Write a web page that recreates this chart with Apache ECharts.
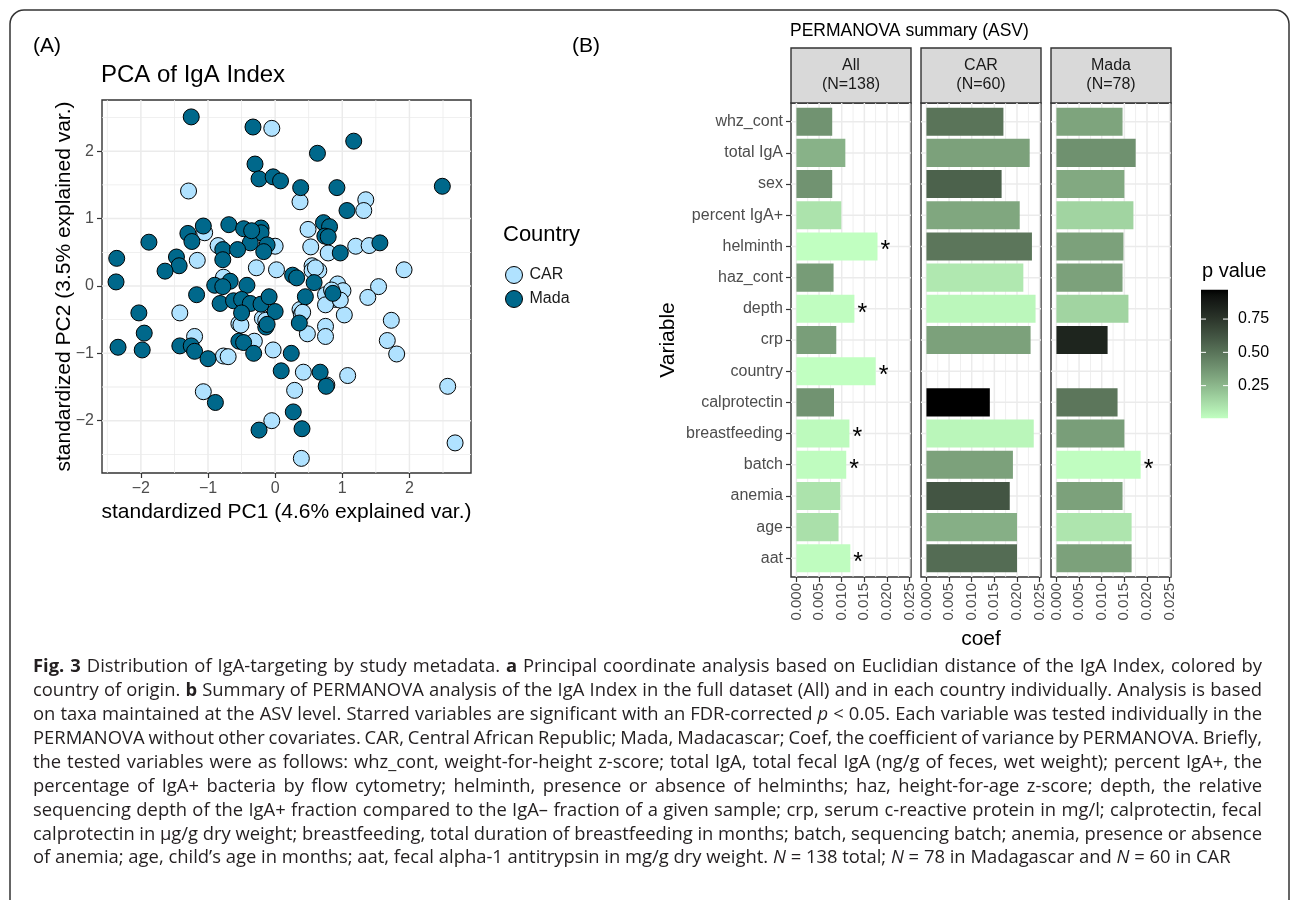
<!DOCTYPE html>
<html><head><meta charset="utf-8">
<script src="https://cdn.jsdelivr.net/npm/echarts@6/dist/echarts.min.js"></script>
<style>html,body{margin:0;padding:0;background:#fff}#c{width:1292px;height:900px}</style>
</head><body><div id="c"></div>
<script>
// ---------------- DATA ----------------
const carPoints = [[-0.05,2.34],[-1.29,1.41],[-1.05,0.79],[-0.85,0.60],[0.0,0.59],[-1.16,0.38],[-0.28,0.27],[0.02,0.24],[-0.77,0.13],[0.37,1.25],[1.35,1.28],[1.32,1.12],[0.49,0.84],[0.53,0.58],[0.79,0.49],[1.20,0.59],[1.40,0.60],[1.92,0.24],[0.55,0.30],[0.55,0.23],[0.65,0.23],[0.93,0.03],[1.54,-0.01],[-1.42,-0.40],[-0.54,-0.56],[-0.19,-0.48],[-0.14,-0.51],[-1.20,-0.75],[-0.77,-1.04],[-0.70,-1.05],[-0.31,-0.82],[-0.03,-0.95],[-1.07,-1.57],[-0.05,-2.00],[1.01,-0.07],[0.75,-0.13],[0.90,-0.20],[0.75,-0.28],[1.03,-0.43],[1.38,-0.17],[0.37,-0.35],[0.39,-0.42],[0.48,-0.71],[0.75,-0.60],[0.75,-0.75],[1.73,-0.51],[1.67,-0.81],[1.81,-1.01],[0.42,-1.28],[0.77,-1.47],[1.08,-1.33],[0.29,-1.55],[0.39,-2.56],[2.57,-1.49],[2.68,-2.33],[0.60,0.27],[0.84,-0.06],[-0.51,-0.58],[0.41,-0.39],[0.97,-0.21]];
const madaPoints = [[-1.25,2.51],[-0.33,2.36],[-0.30,1.81],[-0.24,1.59],[-0.03,1.62],[0.08,1.56],[-1.07,0.89],[-1.30,0.78],[-1.24,0.66],[-0.69,0.91],[-0.47,0.85],[-0.21,0.86],[-0.21,0.79],[-0.37,0.64],[-0.78,0.54],[-0.56,0.54],[-0.12,0.61],[-0.17,0.51],[-1.88,0.65],[-2.36,0.41],[-1.47,0.43],[-1.43,0.30],[-1.64,0.22],[-0.78,0.39],[-2.37,0.06],[-0.67,0.07],[-0.90,0.01],[-0.42,0.01],[1.17,2.15],[0.63,1.97],[0.38,1.46],[0.92,1.46],[2.49,1.48],[1.07,1.12],[0.72,0.94],[0.81,0.88],[0.74,0.74],[0.79,0.73],[0.97,0.49],[1.56,0.64],[0.26,0.16],[0.32,0.12],[0.58,0.05],[-0.78,-0.01],[-1.17,-0.13],[-2.03,-0.40],[-0.82,-0.26],[-0.62,-0.22],[-0.50,-0.20],[-0.37,-0.26],[-0.21,-0.27],[-0.09,-0.16],[0.0,-0.38],[-0.50,-0.40],[-0.14,-0.61],[-0.12,-0.57],[-1.95,-0.70],[-2.34,-0.91],[-1.98,-0.95],[-1.42,-0.89],[-1.25,-0.89],[-1.20,-0.97],[-1.00,-1.08],[-0.54,-0.82],[-0.47,-0.84],[-0.32,-1.00],[0.09,-1.26],[-0.89,-1.73],[-0.24,-2.14],[0.45,-0.16],[0.86,-0.11],[0.36,-0.55],[0.24,-1.00],[0.67,-1.28],[0.76,-1.49],[0.27,-1.87],[0.40,-2.12],[-0.35,0.82]];
const pcaTicks = [-2,-1,0,1,2];
const pcaMinor = [-2.5,-1.5,-0.5,0.5,1.5,2.5];

const variables = ['whz_cont','total IgA','sex','percent IgA+','helminth','haz_cont','depth','crp','country','calprotectin','breastfeeding','batch','anemia','age','aat'];
const panelNames = ['All\n(N=138)','CAR\n(N=60)','Mada\n(N=78)'];
const coefAll  = [0.0079,0.0108,0.0079,0.0099,0.0179,0.0082,0.0128,0.0088,0.0175,0.0083,0.0117,0.0110,0.0097,0.0093,0.0119];
const pAll     = [0.38,0.27,0.38,0.10,0.004,0.35,0.01,0.34,0.005,0.38,0.02,0.015,0.10,0.11,0.015];
const starAll  = [0,0,0,0,1,0,1,0,1,0,1,1,0,0,1];
const coefCAR  = [0.0170,0.0228,0.0166,0.0206,0.0233,0.0214,0.0241,0.0230,null,0.0140,0.0237,0.0191,0.0184,0.0200,0.0200];
const pCAR     = [0.50,0.33,0.57,0.31,0.49,0.08,0.03,0.33,null,0.97,0.035,0.33,0.62,0.28,0.53];
const starCAR  = [0,0,0,0,0,0,0,0,0,0,0,0,0,0,0];
const coefMada = [0.0146,0.0175,0.0150,0.0170,0.0148,0.0146,0.0159,0.0113,null,0.0135,0.0150,0.0186,0.0146,0.0166,0.0166];
const pMada    = [0.32,0.39,0.30,0.15,0.33,0.33,0.15,0.83,null,0.49,0.34,0.01,0.33,0.09,0.33];
const starMada = [0,0,0,0,0,0,0,0,0,0,0,1,0,0,0];
const coefTicks = [0,0.005,0.010,0.015,0.020,0.025];
const coefMinor = [0.0025,0.0075,0.0125,0.0175,0.0225];
const pTicks = [0.25,0.50,0.75];

const captionLines = [
 '{b|Fig. 3} Distribution of IgA-targeting by study metadata. {b|a} Principal coordinate analysis based on Euclidian distance of the IgA Index, colored by',
 'country of origin. {b|b} Summary of PERMANOVA analysis of the IgA Index in the full dataset (All) and in each country individually. Analysis is based',
 'on taxa maintained at the ASV level. Starred variables are significant with an FDR-corrected {i|p} < 0.05. Each variable was tested individually in the',
 'PERMANOVA without other covariates. CAR, Central African Republic; Mada, Madacascar; Coef, the coefficient of variance by PERMANOVA. Briefly,',
 'the tested variables were as follows: whz_cont, weight-for-height z-score; total IgA, total fecal IgA (ng/g of feces, wet weight); percent IgA+, the',
 'percentage of IgA+ bacteria by flow cytometry; helminth, presence or absence of helminths; haz, height-for-age z-score; depth, the relative',
 'sequencing depth of the IgA+ fraction compared to the IgA\u2013 fraction of a given sample; crp, serum c-reactive protein in mg/l; calprotectin, fecal',
 'calprotectin in \u00b5g/g dry weight; breastfeeding, total duration of breastfeeding in months; batch, sequencing batch; anemia, presence or absence',
 'of anemia; age, child\u2019s age in months; aat, fecal alpha-1 antitrypsin in mg/g dry weight. {i|N} = 138 total; {i|N} = 78 in Madagascar and {i|N} = 60 in CAR'
];

// ---------------- COLOUR SCALE (Lab interpolation, darkseagreen1 -> black) ----------------
function s2l(c){c/=255;return c<=0.04045?c/12.92:Math.pow((c+0.055)/1.055,2.4);}
function l2s(c){c=c<=0.0031308?12.92*c:1.055*Math.pow(c,1/2.4)-0.055;return Math.round(Math.max(0,Math.min(1,c))*255);}
function hexToLab(h){const r=s2l(parseInt(h.substr(1,2),16)),g=s2l(parseInt(h.substr(3,2),16)),b=s2l(parseInt(h.substr(5,2),16));
 const X=(0.4124*r+0.3576*g+0.1805*b)/0.95047,Y=0.2126*r+0.7152*g+0.0722*b,Z=(0.0193*r+0.1192*g+0.9505*b)/1.08883;
 const f=t=>t>0.008856?Math.cbrt(t):7.787*t+16/116;return [116*f(Y)-16,500*(f(X)-f(Y)),200*(f(Y)-f(Z))];}
function labToRgb(L,a,b){const fy=(L+16)/116,fx=fy+a/500,fz=fy-b/200;const fi=t=>t*t*t>0.008856?t*t*t:(t-16/116)/7.787;
 const X=fi(fx)*0.95047,Y=fi(fy),Z=fi(fz)*1.08883;
 const r=3.2406*X-1.5372*Y-0.4986*Z,g=-0.9689*X+1.8758*Y+0.0415*Z,bb=0.0557*X-0.2040*Y+1.0570*Z;
 return 'rgb('+l2s(r)+','+l2s(g)+','+l2s(bb)+')';}
const LOW=hexToLab('#C1FFC1'), HIGH=hexToLab('#000000');
const allP=[].concat(pAll,pCAR,pMada).filter(v=>v!=null);
const P_MIN=Math.min.apply(null,allP), P_MAX=Math.max.apply(null,allP);
function pColor(p){let t=(p-P_MIN)/(P_MAX-P_MIN);t=Math.max(0,Math.min(1,t));
 return labToRgb(LOW[0]+(HIGH[0]-LOW[0])*t,LOW[1]+(HIGH[1]-LOW[1])*t,LOW[2]+(HIGH[2]-LOW[2])*t);}

// ---------------- LAYOUT ----------------
const FONT='Liberation Sans, Arial, Helvetica, sans-serif';
const panelL=[791,921,1051], panelW=120, panelTop=103, panelH=474;
const stripTop=48, stripH=55;
const COEF_MIN=-0.0012, COEF_MAX=0.0253;

function gridLines(gi,xMaj,xMin,yMaj,yMin,xr,yr){
 return {type:'custom',xAxisIndex:gi,yAxisIndex:gi,silent:true,z:1,
  label:{show:false},labelLine:{show:false},
  data:[[(xr[0]+xr[1])/2,(yr[0]+yr[1])/2]],
  renderItem:function(params,api){
   const ch=[];
   const add=(a,b,w)=>ch.push({type:'rect',shape:{x:Math.min(a[0],b[0])-(a[0]===b[0]?w/2:0),y:Math.min(a[1],b[1])-(a[1]===b[1]?w/2:0),
     width:a[0]===b[0]?w:Math.abs(b[0]-a[0]),height:a[1]===b[1]?w:Math.abs(b[1]-a[1])},style:{fill:'#ebebeb'}});
   xMin.forEach(v=>add(api.coord([v,yr[0]]),api.coord([v,yr[1]]),0.8));
   yMin.forEach(v=>add(api.coord([xr[0],v]),api.coord([xr[1],v]),0.8));
   xMaj.forEach(v=>add(api.coord([v,yr[0]]),api.coord([v,yr[1]]),1.5));
   yMaj.forEach(v=>add(api.coord([xr[0],v]),api.coord([xr[1],v]),1.5));
   return {type:'group',children:ch};
  }};
}
function barSeries(gi,coef,pv,star){
 const data=[];
 coef.forEach((c,i)=>{if(c!=null)data.push([c,i,pv[i],star[i]]);});
 return {type:'custom',xAxisIndex:gi,yAxisIndex:gi,z:3,data:data,encode:{x:0,y:1},
  label:{show:false},labelLine:{show:false},
  renderItem:function(params,api){
   const v=api.value(0),i=api.value(1),p=api.value(2),s=api.value(3);
   const a=api.coord([0,i-0.45]),b=api.coord([v,i+0.45]);
   const ch=[{type:'rect',shape:{x:a[0],y:Math.min(a[1],b[1]),width:b[0]-a[0],height:Math.abs(b[1]-a[1])},style:{fill:pColor(p)}}];
   if(s){const c=api.coord([v,i]);ch.push({type:'text',x:c[0]+3,y:c[1]+5,style:{text:'*',fill:'#000',fontSize:25,fontFamily:FONT,align:'left',verticalAlign:'middle'}});}
   return {type:'group',children:ch};
  }};
}
const ticks15=variables.map((v,i)=>i);

const grids=[{left:102,top:100,width:369,height:373,show:true,borderColor:'#333',borderWidth:1.4,backgroundColor:'#fff'}];
panelL.forEach(L=>grids.push({left:L,top:panelTop,width:panelW,height:panelH,show:true,borderColor:'#333',borderWidth:1.4,backgroundColor:'#fff'}));
grids.push({left:1201,top:285.8,width:27,height:133.1,show:false});

const labelColor='#4d4d4d';
const xAxes=[{gridIndex:0,type:'value',min:-2.579,max:2.917,splitNumber:5,
  axisLine:{show:false,onZero:false},splitLine:{show:false},
  axisTick:{show:true,length:5,lineStyle:{color:'#333',width:1.2},customValues:pcaTicks},
  axisLabel:{color:labelColor,fontSize:16,fontFamily:FONT,margin:8,customValues:pcaTicks,
    formatter:v=>Math.abs(v-Math.round(v))<1e-6?(v<-0.5?'\u2212'+Math.abs(Math.round(v)):String(Math.round(v))):''},
  name:'standardized PC1 (4.6% explained var.)',nameLocation:'middle',nameGap:29,nameMoveOverlap:false,
  nameTextStyle:{fontSize:21,color:'#000',fontFamily:FONT}}];
const yAxes=[{gridIndex:0,type:'value',min:-2.777,max:2.761,splitNumber:5,
  axisLine:{show:false,onZero:false},splitLine:{show:false},
  axisTick:{show:true,length:5,lineStyle:{color:'#333',width:1.2},customValues:pcaTicks},
  axisLabel:{color:labelColor,fontSize:16,fontFamily:FONT,margin:8,customValues:pcaTicks,
    formatter:v=>Math.abs(v-Math.round(v))<1e-6?(v<-0.5?'\u2212'+Math.abs(Math.round(v)):String(Math.round(v))):''},
  name:'standardized PC2 (3.5% explained var.)',nameLocation:'middle',nameGap:27,nameMoveOverlap:false,
  nameTextStyle:{fontSize:21,color:'#000',fontFamily:FONT}}];
panelL.forEach((L,k)=>{
 const gi=k+1;
 const xa={gridIndex:gi,type:'value',min:COEF_MIN,max:COEF_MAX,splitNumber:5,
  axisLine:{show:false,onZero:false},splitLine:{show:false},
  axisTick:{show:true,length:5,lineStyle:{color:'#333',width:1.2},customValues:coefTicks},
  axisLabel:{color:labelColor,fontSize:15,fontFamily:FONT,rotate:90,margin:6,customValues:coefTicks,
    formatter:v=>{const r=v/0.005;return Math.abs(r-Math.round(r))<1e-6&&v>-1e-9&&v<0.0251?v.toFixed(3):'';}}};
 if(k===1){xa.name='coef';xa.nameLocation='middle';xa.nameGap=48;xa.nameTextStyle={fontSize:21,color:'#000',fontFamily:FONT};}
 xAxes.push(xa);
 const ya={gridIndex:gi,type:'value',inverse:true,min:-0.6,max:14.6,splitNumber:15,
  axisLine:{show:false,onZero:false},splitLine:{show:false},
  axisTick:{show:k===0,length:5,lineStyle:{color:'#333',width:1.2},customValues:ticks15},
  axisLabel:{show:k===0,color:labelColor,fontSize:16,fontFamily:FONT,margin:8,customValues:ticks15,
    formatter:v=>Math.abs(v-Math.round(v))<1e-6&&v>=0&&v<=14?variables[Math.round(v)]:''}};
 if(k===0){ya.name='Variable';ya.nameLocation='middle';ya.nameGap=112;ya.nameTextStyle={fontSize:21,color:'#000',fontFamily:FONT};}
 else {ya.show=false;}
 yAxes.push(ya);
});
xAxes.push({gridIndex:4,type:'value',min:0,max:1,show:false});
yAxes.push({gridIndex:4,type:'value',min:0,max:1,interval:0.25,position:'right',
 axisLine:{show:false,onZero:false},axisTick:{show:false},splitLine:{show:false},
 axisLabel:{color:'#000',fontSize:16,fontFamily:FONT,margin:10,
  formatter:v=>(v>0.01&&v<0.99)?v.toFixed(2):''}});

const series=[];
series.push(gridLines(0,pcaTicks,pcaMinor,pcaTicks,pcaMinor,[-2.579,2.917],[-2.777,2.761]));
series.push({type:'scatter',name:'CAR',xAxisIndex:0,yAxisIndex:0,z:3,data:carPoints,symbolSize:16,
 itemStyle:{color:'#B0E2FF',borderColor:'#000',borderWidth:1,opacity:1}});
series.push({type:'scatter',name:'Mada',xAxisIndex:0,yAxisIndex:0,z:4,data:madaPoints,symbolSize:16,
 itemStyle:{color:'#00688B',borderColor:'#000',borderWidth:1,opacity:1}});
[1,2,3].forEach(gi=>series.push(gridLines(gi,coefTicks,coefMinor,ticks15,[],[COEF_MIN,COEF_MAX],[-0.6,14.6])));
series.push(barSeries(1,coefAll,pAll,starAll));
series.push(barSeries(2,coefCAR,pCAR,starCAR));
series.push(barSeries(3,coefMada,pMada,starMada));
// colour bar
series.push({type:'custom',xAxisIndex:4,yAxisIndex:4,silent:true,data:[[0.5,0.5]],label:{show:false},
 renderItem:function(params,api){
  const a=api.coord([0,P_MIN]),b=api.coord([1,P_MAX]);
  const stops=[];for(let k=0;k<=24;k++){const t=k/24;stops.push({offset:t,color:pColor(P_MIN+(P_MAX-P_MIN)*t)});}
  const ch=[{type:'rect',shape:{x:a[0],y:b[1],width:b[0]-a[0],height:a[1]-b[1]},
   style:{fill:{type:'linear',x:0,y:1,x2:0,y2:0,colorStops:stops}}}];
  pTicks.forEach(v=>{const l=api.coord([0,v]),r=api.coord([1,v]);
   ch.push({type:'line',shape:{x1:l[0],y1:l[1],x2:l[0]+5,y2:l[1]},style:{stroke:'#fff',lineWidth:1}});
   ch.push({type:'line',shape:{x1:r[0]-5,y1:r[1],x2:r[0],y2:r[1]},style:{stroke:'#fff',lineWidth:1}});});
  return {type:'group',children:ch};
 }});

const graphics=[
 {type:'rect',shape:{x:10,y:10,width:1279,height:910,r:14},style:{fill:'none',stroke:'#333',lineWidth:1.5},z:100},
 {type:'text',x:503,y:235,style:{text:'Country',fontSize:22,fontFamily:FONT,fill:'#000',verticalAlign:'middle'}},
 {type:'text',x:1202,y:271,style:{text:'p value',fontSize:20,fontFamily:FONT,fill:'#000',verticalAlign:'middle'}}
];
panelL.forEach((L,k)=>{
 graphics.push({type:'rect',shape:{x:L,y:stripTop,width:panelW,height:stripH},style:{fill:'#d9d9d9',stroke:'#333',lineWidth:1.4}});
 graphics.push({type:'text',x:L+panelW/2,y:stripTop+stripH/2,style:{text:panelNames[k],fontSize:16,lineHeight:19,fontFamily:FONT,fill:'#1a1a1a',align:'center',verticalAlign:'middle'}});
});

// ---- justified caption ----
const CAPF='Open Sans', CAPS=18.4, CAP_X0=33, CAP_X1=1262, CAP_Y0=667, CAP_DY=23.9, CAPC='#231f20';
const mctx=document.createElement('canvas').getContext('2d');
function fontStr(st){return (st==='i'?'italic ':'')+(st==='b'?'bold ':'')+CAPS+'px "'+CAPF+'"';}
function parseLine(line){
 const words=[];const re=/\{(b|i)\|([^}]*)\}|([^{]+)/g;let m;
 while((m=re.exec(line))){const st=m[1]||'n';const txt=m[1]?m[2]:m[3];
  txt.split(' ').forEach(w=>{if(w!=='')words.push({w:w,st:st});});}
 return words;
}
captionLines.forEach((line,li)=>{
 const words=parseLine(line);
 words.forEach(o=>{mctx.font=fontStr(o.st);o.width=mctx.measureText(o.w).width;});
 const sum=words.reduce((s,o)=>s+o.width,0);
 mctx.font=fontStr('n');const space=mctx.measureText(' ').width;
 const last=li===captionLines.length-1;
 const gap=last?space:(CAP_X1-CAP_X0-sum)/(words.length-1);
 let x=CAP_X0;
 words.forEach(o=>{
  graphics.push({type:'text',x:x,y:CAP_Y0+li*CAP_DY,style:{text:o.w,fontSize:CAPS,fontFamily:CAPF,fill:CAPC,verticalAlign:'middle',
   fontWeight:o.st==='b'?'bold':'normal',fontStyle:o.st==='i'?'italic':'normal'}});
  x+=o.width+gap;
 });
});

const option={
 animation:false,
 backgroundColor:'#fff',
 textStyle:{fontFamily:FONT},
 title:[
  {text:'(A)',left:33,top:36,padding:0,textStyle:{fontSize:21,fontWeight:'normal',color:'#000',fontFamily:FONT}},
  {text:'PCA of IgA Index',left:101,top:63,padding:0,textStyle:{fontSize:24,fontWeight:'normal',color:'#000',fontFamily:FONT}},
  {text:'(B)',left:572,top:36,padding:0,textStyle:{fontSize:21,fontWeight:'normal',color:'#000',fontFamily:FONT}},
  {text:'PERMANOVA summary (ASV)',left:790,top:22,padding:0,textStyle:{fontSize:17.5,fontWeight:'normal',color:'#000',fontFamily:FONT}}
 ],
 legend:{data:['CAR','Mada'],orient:'vertical',left:500,top:261,itemWidth:17,itemHeight:17,itemGap:6,icon:'circle',
  itemStyle:{borderColor:'#000',borderWidth:1},
  textStyle:{fontSize:16,color:'#1a1a1a',fontFamily:FONT,padding:[0,0,0,2]},selectedMode:false},
 grid:grids, xAxis:xAxes, yAxis:yAxes, series:series, graphic:graphics
};
const chart=echarts.init(document.getElementById('c'),null,{renderer:'canvas'});
chart.setOption(option);
</script></body></html>
